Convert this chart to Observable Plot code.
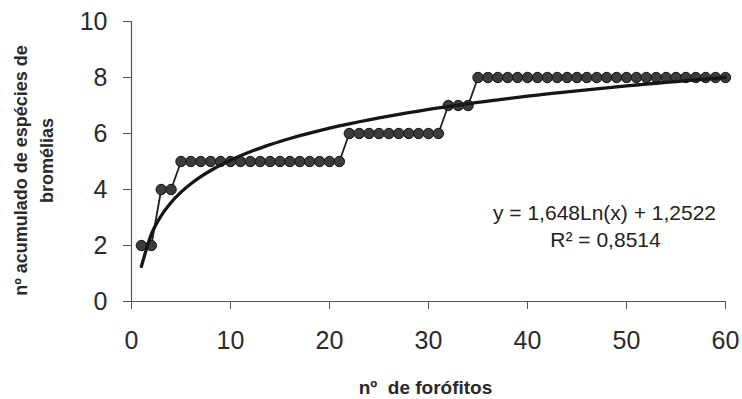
<!DOCTYPE html>
<html>
<head>
<meta charset="utf-8">
<script src="https://cdn.jsdelivr.net/npm/d3@7"></script>
<script src="https://cdn.jsdelivr.net/npm/@observablehq/plot@0.6"></script>
<style>
  html, body { margin: 0; padding: 0; background: #fff; }
  svg { display: block; }
</style>
</head>
<body>
<div id="chart"></div>
<script>
// Number of phorophytes sampled (x) and cumulative bromeliad species (y)
const forofitos = [1,2,3,4,5,6,7,8,9,10,11,12,13,14,15,16,17,18,19,20,
  21,22,23,24,25,26,27,28,29,30,31,32,33,34,35,36,37,38,39,40,
  41,42,43,44,45,46,47,48,49,50,51,52,53,54,55,56,57,58,59,60];
const especies = [2,2,4,4,5,5,5,5,5,5,5,5,5,5,5,5,5,5,5,5,
  5,6,6,6,6,6,6,6,6,6,6,7,7,7,8,8,8,8,8,8,
  8,8,8,8,8,8,8,8,8,8,8,8,8,8,8,8,8,8,8,8];
// Logarithmic trendline shown on the chart: y = a*ln(x) + b
const trendA = 1.648;
const trendB = 1.2522;
const equationLines = ["y = 1,648Ln(x) + 1,2522", "R² = 0,8514"];
const xTicks = [0,10,20,30,40,50,60];
const yTicks = [0,2,4,6,8,10];
const xLabel = "nº  de forófitos";
const yLabelLines = ["nº acumulado de espécies de", "bromélias"];

const data = forofitos.map((x, i) => ({x, y: especies[i]}));
const trend = forofitos.map(x => ({x, y: trendA * Math.log(x) + trendB}));

const font = "'Liberation Sans', Arial, sans-serif";
const ink = "#1e1e1e";
const axisColor = "#555";

const chart = Plot.plot({
  width: 742,
  height: 399,
  marginLeft: 131,
  marginRight: 17,
  marginTop: 21,
  marginBottom: 98,
  style: {fontFamily: font, background: "#fff", color: "#2a2a2a", overflow: "visible"},
  x: {domain: [0, 60]},
  y: {domain: [0, 10]},
  marks: [
    Plot.ruleX([0], {y1: 0, y2: 10, stroke: axisColor, strokeWidth: 1.2}),
    Plot.ruleY([0], {x1: 0, x2: 60, stroke: axisColor, strokeWidth: 1.2}),
    Plot.axisY({ticks: yTicks, tickSize: 8, tickPadding: 16, fontSize: 25, label: null, stroke: axisColor, fill: "#2a2a2a"}),
    Plot.axisX({ticks: xTicks, tickSize: 8, tickPadding: 22, fontSize: 25, label: null, stroke: axisColor, fill: "#2a2a2a"}),
    Plot.line(data, {x: "x", y: "y", stroke: ink, strokeWidth: 1.8}),
    Plot.dot(data, {x: "x", y: "y", r: 5.2, fill: "#3c3c3c", stroke: "#141414", strokeWidth: 1}),
    Plot.line(trend, {x: "x", y: "y", stroke: "#161616", strokeWidth: 3.3, curve: "monotone-x"}),
    Plot.text([equationLines[0]], {frameAnchor: "top-left", dx: 473, dy: 192, text: d => d, fontSize: 21, textAnchor: "middle", lineAnchor: "middle", fill: "#222"}),
    Plot.text([equationLines[1]], {frameAnchor: "top-left", dx: 474, dy: 219, text: d => d, fontSize: 21, textAnchor: "middle", lineAnchor: "middle", fill: "#222"}),
    Plot.text([xLabel], {frameAnchor: "bottom", dy: 86, dx: -3, text: d => d, fontSize: 19, fontWeight: "bold", lineAnchor: "middle", fill: "#2a2a2a", style: "letter-spacing:2.5px"}),
    Plot.text([yLabelLines[0]], {frameAnchor: "left", dx: -110, dy: 9, rotate: -90, text: d => d, fontSize: 18, fontWeight: "bold", lineAnchor: "middle", textAnchor: "middle", fill: "#2a2a2a", style: "letter-spacing:1px"}),
    Plot.text([yLabelLines[1]], {frameAnchor: "left", dx: -84, dy: -1, rotate: -90, text: d => d, fontSize: 18, fontWeight: "bold", lineAnchor: "middle", textAnchor: "middle", fill: "#2a2a2a", style: "letter-spacing:1px"})
  ]
});
document.getElementById("chart").appendChild(chart);
</script>
</body>
</html>
